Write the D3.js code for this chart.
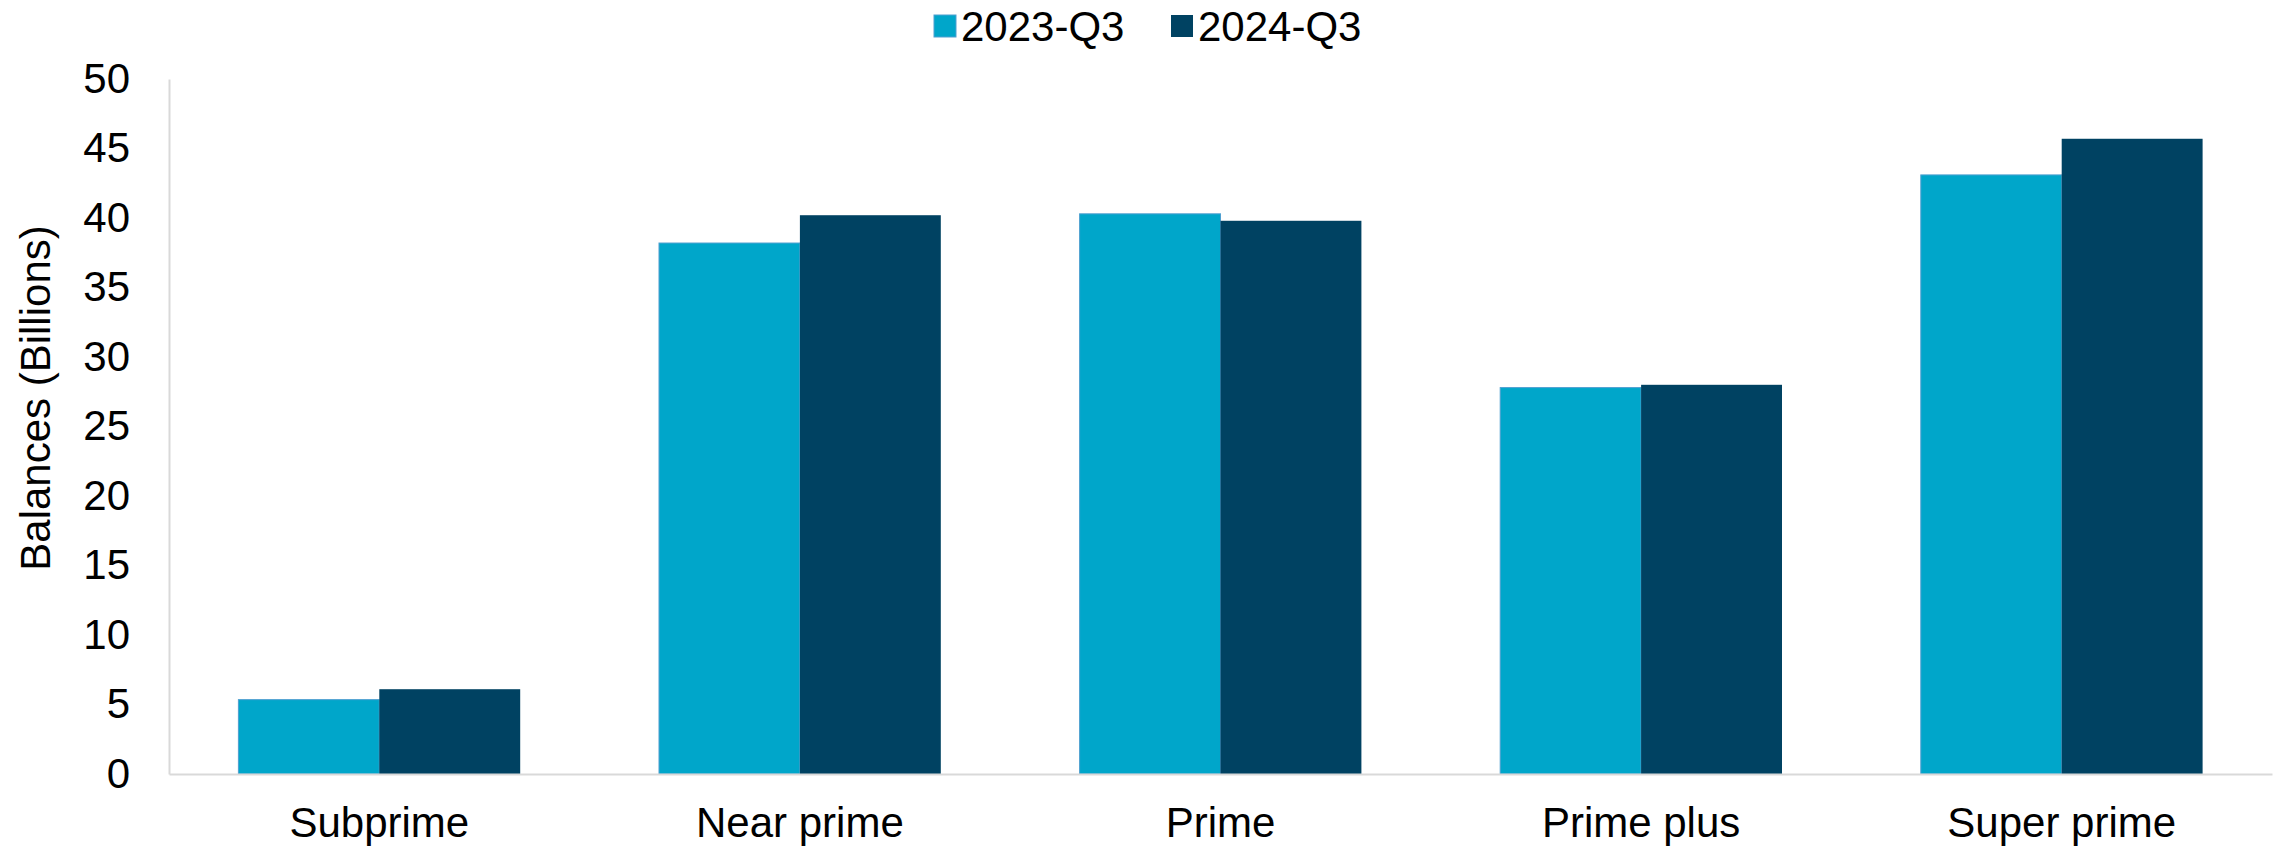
<!DOCTYPE html>
<html>
<head>
<meta charset="utf-8">
<script src="https://cdn.jsdelivr.net/npm/d3@7"></script>
<style>
  body { margin: 0; background: #fff; }
  svg text { font-family: "Liberation Sans", Arial, sans-serif; fill: #000; }
</style>
</head>
<body>
<div id="chart"></div>
<script>
const categories = ["Subprime", "Near prime", "Prime", "Prime plus", "Super prime"];
const seriesNames = ["2023-Q3", "2024-Q3"];
const values2023 = [5.35, 38.2, 40.3, 27.8, 43.1];
const values2024 = [6.1, 40.2, 39.8, 28.0, 45.7];
const yTicks = [0, 5, 10, 15, 20, 25, 30, 35, 40, 45, 50];
const colors = ["#00a6ca", "#004262"];

const width = 2290, height = 848;
const margin = {top: 79, right: 18, bottom: 74, left: 169};
const innerW = width - margin.left - margin.right;
const innerH = height - margin.top - margin.bottom;

const rows = categories.map((c, i) => ({cat: c, vals: [values2023[i], values2024[i]]}));

const svg = d3.select('#chart').append('svg')
    .attr('width', width)
    .attr('height', height);

const g = svg.append('g').attr('transform', `translate(${margin.left},${margin.top})`);

const x = d3.scaleBand().domain(categories).range([0, innerW]).paddingInner(0.33).paddingOuter(0.165);
const xs = d3.scaleBand().domain(seriesNames).range([0, x.bandwidth()]);
const y = d3.scaleLinear().domain([0, 50]).range([innerH, 0]);

// bars
const groups = g.selectAll('g.cat')
    .data(rows)
    .enter()
    .append('g')
    .attr('class', 'cat')
    .attr('transform', d => `translate(${x(d.cat)},0)`);

groups.selectAll('rect')
    .data(d => d.vals.map((v, k) => ({name: seriesNames[k], v: v, k: k})))
    .enter()
    .append('rect')
    .attr('x', d => xs(d.name))
    .attr('y', d => y(d.v))
    .attr('width', xs.bandwidth())
    .attr('height', d => innerH - y(d.v))
    .attr('fill', d => colors[d.k])
    .attr('stroke', d => d.k === 0 ? '#4f9fd0' : 'none')
    .attr('stroke-width', 1);

// y axis
const yAxis = g.append('g')
    .call(d3.axisLeft(y).tickValues(yTicks).tickSize(0).tickPadding(39));
yAxis.select('.domain').attr('stroke', '#d9d9d9').attr('stroke-width', 2);
yAxis.selectAll('text').style('font-size', '42px').style('font-family', '"Liberation Sans", Arial, sans-serif').attr('fill', '#000');

// x axis
const xAxis = g.append('g')
    .attr('transform', `translate(0,${innerH})`)
    .call(d3.axisBottom(x).tickSize(0).tickPadding(33));
xAxis.select('.domain').attr('stroke', '#d9d9d9').attr('stroke-width', 2);
xAxis.selectAll('text').style('font-size', '42px').style('font-family', '"Liberation Sans", Arial, sans-serif').attr('fill', '#000');

// y title
svg.append('text')
    .attr('transform', 'translate(50,398) rotate(-90)')
    .attr('text-anchor', 'middle')
    .style('font-size', '42px')
    .text('Balances (Billions)');

// legend
const legend = svg.append('g');
const legendX = [934, 1171];
seriesNames.forEach((name, k) => {
    legend.append('rect')
        .attr('x', legendX[k])
        .attr('y', 15)
        .attr('width', 22)
        .attr('height', 22)
        .attr('fill', colors[k])
        .attr('stroke', k === 0 ? '#4f9fd0' : 'none');
    legend.append('text')
        .attr('x', legendX[k] + 27)
        .attr('y', 41)
        .style('font-size', '42px')
        .text(name);
});
</script>
</body>
</html>
